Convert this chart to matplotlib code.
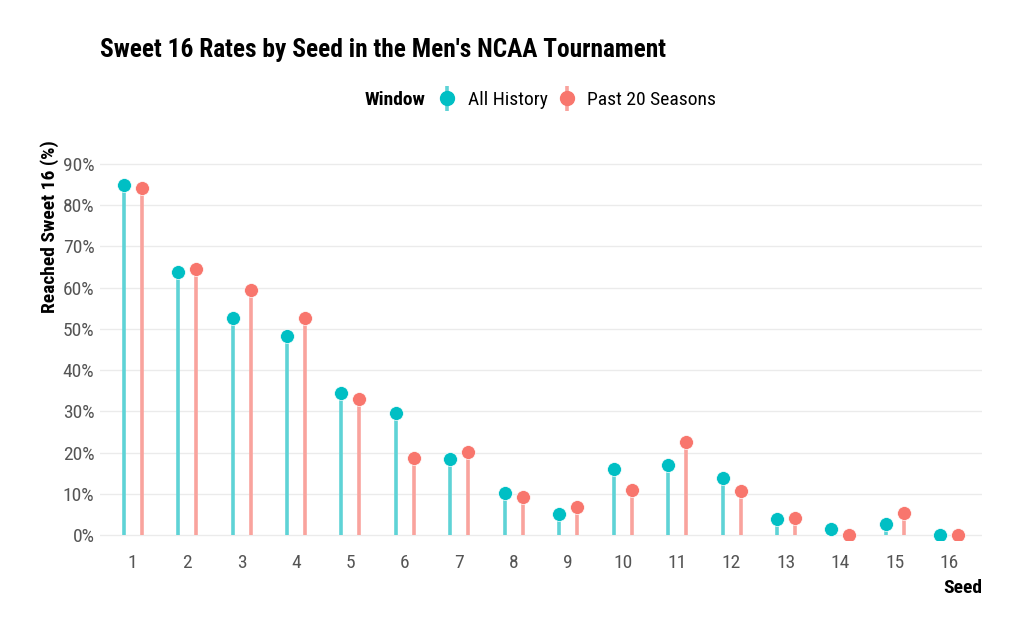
import numpy as np
import matplotlib
matplotlib.use("Agg")
import matplotlib.pyplot as plt
from matplotlib.lines import Line2D
from matplotlib.legend_handler import HandlerTuple
from matplotlib.ticker import FuncFormatter

plt.rcParams['font.family'] = ['Roboto Condensed', 'Roboto', 'DejaVu Sans']

# datos
seeds = list(range(1, 17))
all_history = [84.9, 63.8, 52.6, 48.3, 34.4, 29.6, 18.4, 10.2, 5.1, 16.0, 17.0, 13.9, 3.9, 1.5, 2.7, 0.0]
past_20 = [84.2, 64.5, 59.4, 52.6, 33.0, 18.7, 20.1, 9.2, 6.8, 10.9, 22.6, 10.7, 4.1, 0.0, 5.4, 0.0]
series_names = ["All History", "Past 20 Seasons"]
colores = ["#00BFC4", "#F8766D"]
colores_tallo = ["#5ED3D6", "#F9A39D"]

fig = plt.figure(figsize=(10.24, 6.4), dpi=100)
# panel: y=-1.3 -> 540.4px, y=93 -> 151.6px
ax = fig.add_axes([100/1024, 1-540.4/640, 882/1024, 388.8/640])

x = np.array(seeds)
dodge = 0.165
for i, (vals, c, cs) in enumerate(zip([all_history, past_20], colores, colores_tallo)):
    xs = x + (-dodge if i == 0 else dodge)
    ax.vlines(xs, 0, vals, color=cs, lw=2.6, zorder=2)
    ax.plot(xs, vals, 'o', color=c, ms=10, mec='white', mew=0.5, zorder=3)

ax.set_xlim(0.4, 16.6)
ax.set_ylim(-1.3, 93)
ax.set_yticks(np.arange(0, 91, 10))
ax.yaxis.set_major_formatter(FuncFormatter(lambda v, p: f"{int(v)}%"))
ax.set_xticks(seeds)
ax.grid(axis='y', color='#EBEBEB', lw=1)
ax.set_axisbelow(True)
for s in ax.spines.values():
    s.set_visible(False)
ax.tick_params(length=0, labelsize=14, labelcolor='#555555', pad=4)
ax.tick_params(axis='x', pad=10)

ax.set_ylabel("Reached Sweet 16 (%)", fontsize=14, fontweight='bold', va='center')
ax.yaxis.set_label_coords(-50/882, (540.4-227)/388.8)
ax.set_xlabel("Seed", fontsize=14, fontweight='bold', loc='right', labelpad=5)

fig.text(100/1024, 1-50/640, "Sweet 16 Rates by Seed in the Men's NCAA Tournament",
         fontsize=18.3, fontweight='bold', va='center', ha='left')

fig.text(425/1024, 1-100/640, "Window", fontsize=14, fontweight='bold', va='center', ha='right')
handles = []
for c, cs in zip(colores, colores_tallo):
    tallo = Line2D([], [], marker='|', ms=18, mew=2.6, color=cs, ls='none')
    punto = Line2D([], [], marker='o', ms=10, color=c, ls='none')
    handles.append((tallo, punto))
fig.legend(handles, series_names, handler_map={tuple: HandlerTuple(ndivide=1)},
           loc='center left', bbox_to_anchor=(420/1024, 1-100/640), ncol=2, frameon=False,
           fontsize=14, handlelength=1.0, handletextpad=0.55, columnspacing=0.5)

fig.savefig("out.png", dpi=100)
